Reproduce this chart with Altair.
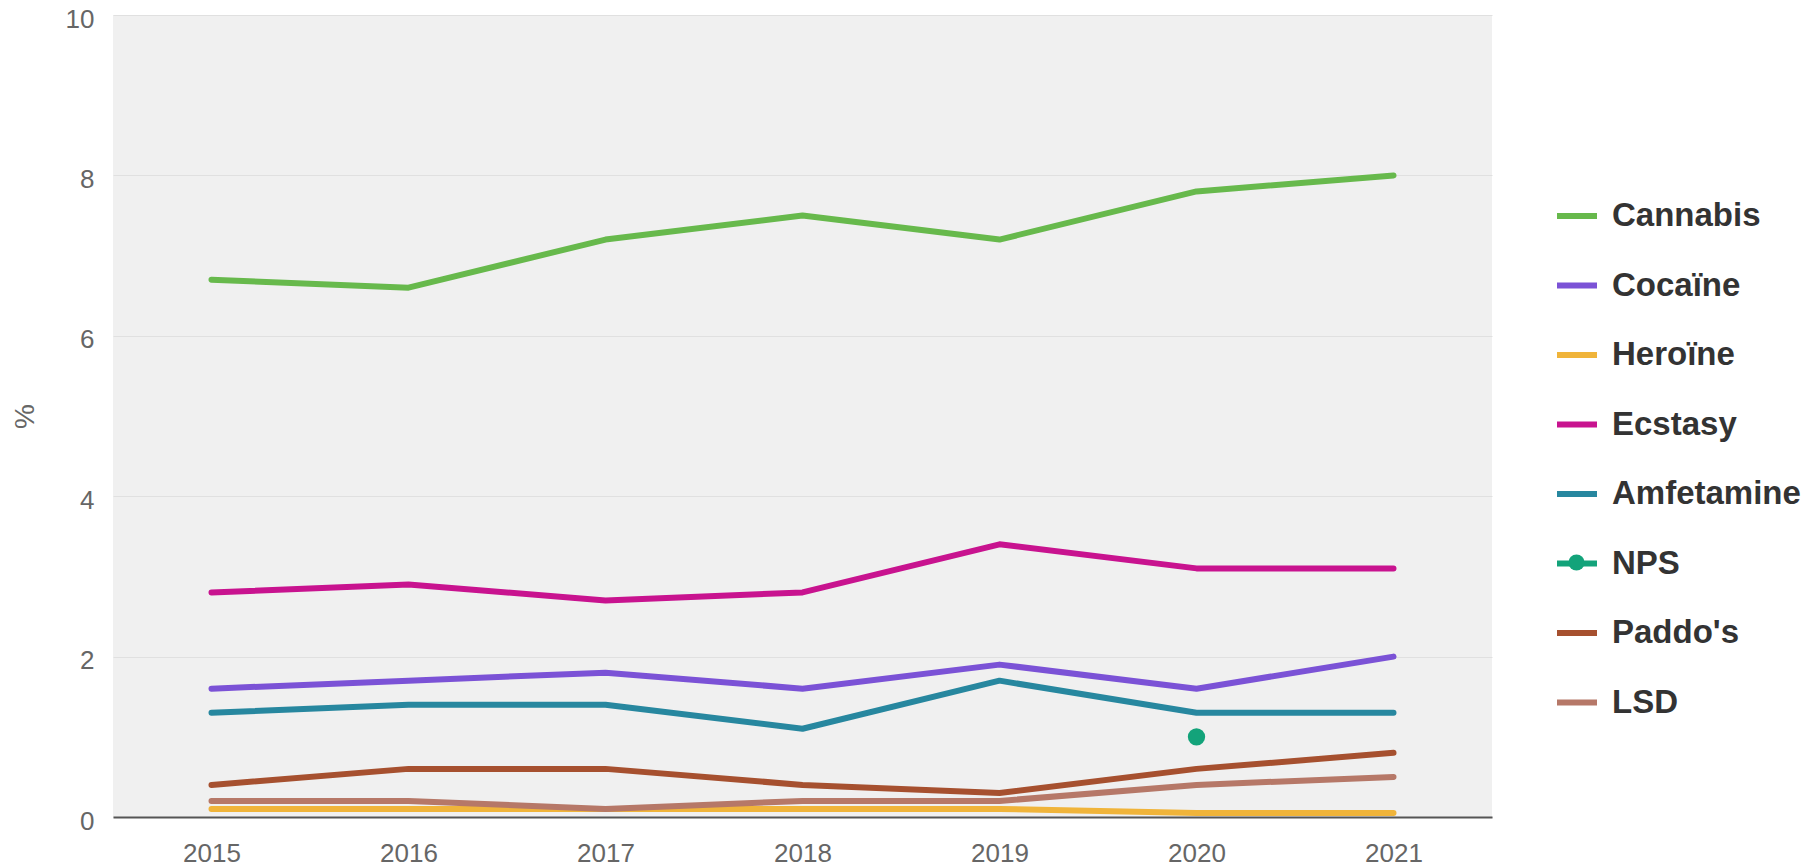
import altair as alt
import pandas as pd

years = [2015, 2016, 2017, 2018, 2019, 2020, 2021]
drugs = ["Cannabis", "Cocaïne", "Heroïne", "Ecstasy", "Amfetamine", "NPS", "Paddo's", "LSD"]

cannabis = [6.7, 6.6, 7.2, 7.5, 7.2, 7.8, 8.0]
cocaine = [1.6, 1.7, 1.8, 1.6, 1.9, 1.6, 2.0]
heroine = [0.1, 0.1, 0.1, 0.1, 0.1, 0.05, 0.05]
ecstasy = [2.8, 2.9, 2.7, 2.8, 3.4, 3.1, 3.1]
amfetamine = [1.3, 1.4, 1.4, 1.1, 1.7, 1.3, 1.3]
nps = [None, None, None, None, None, 1.0, None]
paddos = [0.4, 0.6, 0.6, 0.4, 0.3, 0.6, 0.8]
lsd = [0.2, 0.2, 0.1, 0.2, 0.2, 0.4, 0.5]

colors = ["#67b94c", "#7b52d6", "#f0b43a", "#c8138f", "#27879f", "#13a37a", "#a6502f", "#b67868"]

all_values = [cannabis, cocaine, heroine, ecstasy, amfetamine, nps, paddos, lsd]
rows = []
for d, vals in zip(drugs, all_values):
    for yr, v in zip(years, vals):
        if v is not None:
            rows.append({"Jaar": yr, "Drug": d, "Waarde": v})
df = pd.DataFrame(rows)
line_df = df[df["Drug"] != "NPS"]
nps_df = df[df["Drug"] == "NPS"]

FONT = "Liberation Sans"
NPS_COLOR = colors[drugs.index("NPS")]

x_enc = alt.X(
    "Jaar:O",
    scale=alt.Scale(type="point", padding=0.5),
    axis=alt.Axis(
        title=None, labelAngle=0, ticks=False, tickSize=0, labelPadding=23,
        labelFontSize=26, labelColor="#666666", labelFont=FONT,
        domainColor="#555555", domainWidth=2, grid=False,
    ),
)
y_enc = alt.Y(
    "Waarde:Q",
    scale=alt.Scale(domain=[0, 10], nice=False, zero=True),
    axis=alt.Axis(
        values=[0, 2, 4, 6, 8, 10], title="%", titleFontSize=28, titleFontWeight="normal",
        titleColor="#666666", titleFont=FONT, titleAngle=-90, titleX=-88, titleY=401,
        titleAlign="center", titleBaseline="middle",
        ticks=False, tickSize=0, labelPadding=19, labelOffset=4, labelFontSize=26,
        labelColor="#666666", labelFont=FONT, domain=False, gridColor="#e0e0e0", gridWidth=1,
    ),
)

color_scale = alt.Scale(domain=drugs, range=colors)

leg = alt.Legend(
    title=None, orient="none", legendX=1441, legendY=178,
    labelFontSize=33, labelFont=FONT, labelFontWeight="bold", labelColor="#333333",
    symbolType="stroke", symbolSize=1600, symbolStrokeWidth=6, rowPadding=29.5,
    labelOffset=12, labelLimit=400,
)

lines = alt.Chart(line_df).mark_line(strokeWidth=6, strokeCap="round", strokeJoin="round").encode(
    x=x_enc, y=y_enc,
    color=alt.Color("Drug:N", scale=color_scale, legend=leg),
    detail="Drug:N",
)

nps_leg = alt.Legend(
    title=None, orient="none", legendX=1455, legendY=539,
    symbolSize=260, symbolStrokeWidth=0, symbolFillColor=NPS_COLOR,
    labelOpacity=0, labelFontSize=10,
)

dots = alt.Chart(nps_df).mark_point(size=300, filled=True, opacity=1).encode(
    x=x_enc, y=y_enc,
    color=alt.Color("Drug:N", scale=color_scale, legend=None),
    shape=alt.Shape("Drug:N", scale=alt.Scale(domain=["NPS"], range=["circle"]), legend=nps_leg),
)

chart = alt.layer(lines, dots).properties(
    width=1379, height=802,
    autosize=alt.AutoSizeParams(type="none"),
    padding={"left": 105, "top": 7, "right": 314, "bottom": 60},
    background="white",
).configure_view(fill="#f0f0f0", stroke=None)

chart.save("out.html", embed_options={"renderer": "svg", "actions": False})
